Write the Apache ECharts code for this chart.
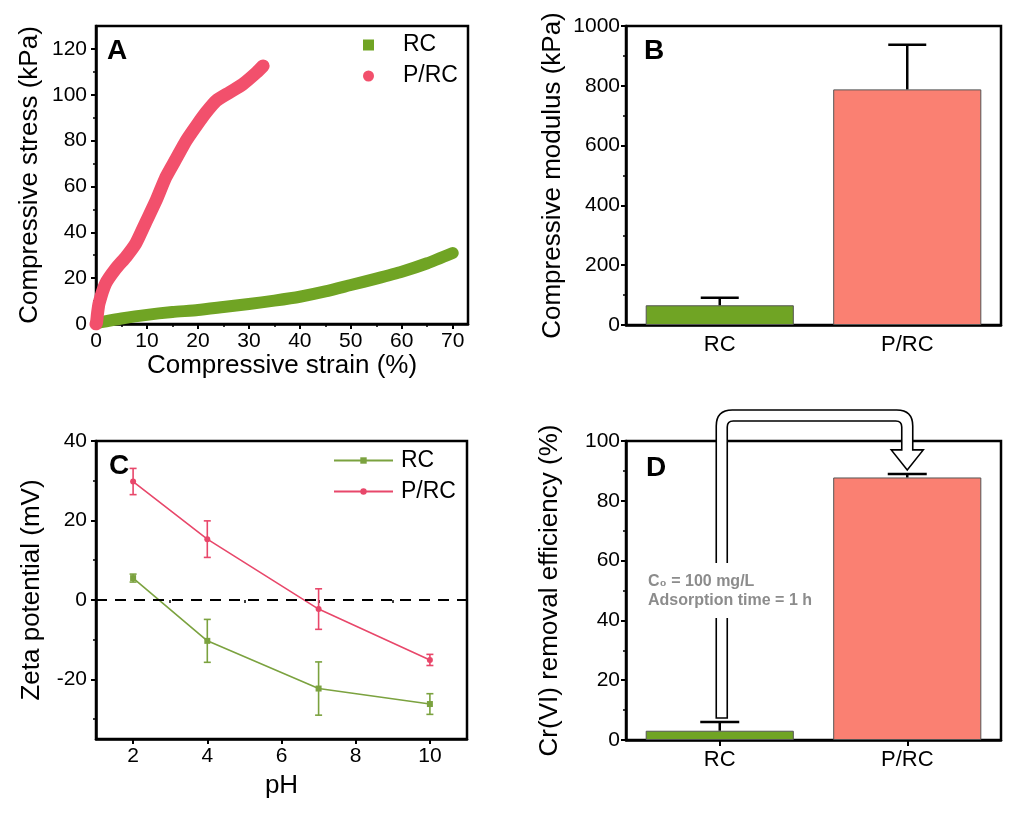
<!DOCTYPE html>
<html><head><meta charset="utf-8">
<script src="https://cdn.jsdelivr.net/npm/echarts@6/dist/echarts.min.js"></script>
<style>html,body{margin:0;padding:0;background:#fff}#c{width:1017px;height:820px}</style>
</head><body><div id="c"></div>
<script>
// ---------- Panel A: stress-strain ----------
const strainRC   = [0, 2, 5, 10, 15, 20, 25, 30, 35, 40, 45, 50, 55, 60, 65, 70];
const stressRC   = [0.3, 1.2, 2.4, 4.0, 5.2, 6.1, 7.4, 8.7, 10.2, 11.9, 14.2, 17.0, 19.8, 22.8, 26.5, 31.0];
const strainPRC  = [0, 0.1, 0.3, 0.6, 1.9, 3.9, 5.9, 7.8, 9.8, 11.8, 13.7, 15.7, 17.7, 19.7, 21.6, 23.6, 26.2, 28.8, 31.5, 32.8];
const stressPRC  = [0, 0.5, 4.6, 9.0, 17.7, 24.2, 29.3, 35.1, 44.5, 53.9, 64.0, 72.0, 80.0, 86.5, 92.3, 97.4, 101.0, 104.6, 109.7, 112.6];
const ticksAx = [0, 10, 20, 30, 40, 50, 60, 70];
const minorAx = [5, 15, 25, 35, 45, 55, 65];
const ticksAy = [0, 20, 40, 60, 80, 100, 120];
const minorAy = [10, 30, 50, 70, 90, 110];

// ---------- Panel B: compressive modulus ----------
const barCats = ['RC', 'P/RC'];
const modulus = [66, 788];
const modulusErr = [25, 149];
const ticksBy = [0, 200, 400, 600, 800, 1000];
const minorBy = [100, 300, 500, 700, 900];

// ---------- Panel C: zeta potential ----------
const pH = [2, 4, 7, 10];
const zetaRC = [5.5, -10.3, -22.3, -26.2];
const zetaRCErr = [1.0, 5.4, 6.7, 2.6];
const zetaPRC = [29.8, 15.3, -2.3, -15.1];
const zetaPRCErr = [3.3, 4.6, 5.1, 1.4];
const ticksCx = [2, 4, 6, 8, 10];
const minorCx = [1, 3, 5, 7, 9, 11];
const ticksCy = [-20, 0, 20, 40];
const minorCy = [-30, -10, 10, 30];

// ---------- Panel D: Cr(VI) removal ----------
const removal = [3.1, 87.8];
const removalErr = [2.9, 1.2];
const ticksDy = [0, 20, 40, 60, 80, 100];
const minorDy = [10, 30, 50, 70, 90];

const FONT = "'Liberation Sans', Arial, Helvetica, sans-serif";
const GREEN = '#70a424';
const SALMON = '#fa8072';
const PINK = '#f2506c';
const CGREEN = '#7ba23f';
const CPINK = '#e8476a';

const AL = {show: true, onZero: false, lineStyle: {color: '#000', width: 2.5}};
const TK = (vals) => ({show: true, inside: false, length: 5, lineStyle: {color: '#000', width: 2}, customValues: vals});
const LB = (vals, margin, size) => ({show: true, color: '#000', fontSize: size || 21, fontFamily: FONT, margin: margin, customValues: vals, formatter: (v) => String(v)});
const NT = {fontSize: 26, color: '#000', fontFamily: FONT};
const minorAxis = (grid, type, pos, min, max, vals) => ({
  gridIndex: grid, type: type, position: pos, min: min, max: max,
  axisLine: {show: false}, axisLabel: {show: false}, splitLine: {show: false},
  axisTick: {show: true, inside: false, length: 3, lineStyle: {color: '#000', width: 1.5}, customValues: vals}
});

function errBar(color, width, capW, upperOnly) {
  return function (params, api) {
    const x = api.value(0), y = api.value(1), e = api.value(2);
    const top = api.coord([x, y + e]);
    const base = api.coord([x, upperOnly ? y : y - e]);
    const h = capW / 2;
    const st = {stroke: color, lineWidth: width};
    const ch = [
      {type: 'line', shape: {x1: top[0], y1: top[1], x2: base[0], y2: base[1]}, style: st},
      {type: 'line', shape: {x1: top[0] - h, y1: top[1], x2: top[0] + h, y2: top[1]}, style: st}
    ];
    if (!upperOnly) ch.push({type: 'line', shape: {x1: base[0] - h, y1: base[1], x2: base[0] + h, y2: base[1]}, style: st});
    return {type: 'group', children: ch};
  };
}

// Arrow in panel D: from the RC error bar up, across, and down onto the P/RC error bar
function arrowItem(params, api) {
  const pRCcap = api.coord([0, removal[0] + removalErr[0]]);
  const pPRCcap = api.coord([1, removal[1] + removalErr[1]]);
  const pTop = api.coord([0, 100]);
  const xL = pRCcap[0] + 2, xR = pPRCcap[0];
  const yB = pRCcap[1] - 4;
  const yT = pTop[1] - 31;
  const yTip = pPRCcap[1] - 4;
  const yHead = yTip - 20;
  const hw = 5.5, th = 11, Ro = 16, Ri = 6, hh = 16;
  const d = [
    'M', xL - hw, yB,
    'L', xL - hw, yT + Ro,
    'Q', xL - hw, yT, xL - hw + Ro, yT,
    'L', xR + hw - Ro, yT,
    'Q', xR + hw, yT, xR + hw, yT + Ro,
    'L', xR + hw, yHead,
    'L', xR + hh, yHead,
    'L', xR, yTip,
    'L', xR - hh, yHead,
    'L', xR - hw, yHead,
    'L', xR - hw, yT + th + Ri,
    'Q', xR - hw, yT + th, xR - hw - Ri, yT + th,
    'L', xL + hw + Ri, yT + th,
    'Q', xL + hw, yT + th, xL + hw, yT + th + Ri,
    'L', xL + hw, yB, 'Z'
  ].join(' ');
  return {type: 'path', shape: {pathData: d}, style: {fill: '#fff', stroke: '#000', lineWidth: 1.6}};
}

const grid = (l, t, w, h) => ({left: l, top: t, width: w, height: h, show: true, borderColor: '#000', borderWidth: 2.5, backgroundColor: 'rgba(0,0,0,0)', containLabel: false});

const chart = echarts.init(document.getElementById('c'), null, {renderer: 'canvas'});
const option = {
  animation: false,
  backgroundColor: '#fff',
  textStyle: {fontFamily: FONT},
  grid: [grid(96, 26, 372, 298), grid(626, 26, 375, 299), grid(96, 441, 371, 298), grid(626, 441, 375, 299)],
  xAxis: [
    {gridIndex: 0, type: 'value', position: 'bottom', min: 0, max: 73, axisLine: AL, axisTick: TK(ticksAx), axisLabel: LB(ticksAx, 7), splitLine: {show: false},
      name: 'Compressive strain (%)', nameLocation: 'middle', nameGap: 29, nameTextStyle: NT},
    minorAxis(0, 'value', 'bottom', 0, 73, minorAx),
    {gridIndex: 1, type: 'category', position: 'bottom', data: barCats, axisLine: AL, axisTick: {show: false}, axisLabel: {color: '#000', fontSize: 22, fontFamily: FONT, margin: 9}, splitLine: {show: false}},
    {gridIndex: 2, type: 'value', position: 'bottom', min: 1, max: 11, axisLine: AL, axisTick: TK(ticksCx), axisLabel: LB(ticksCx, 7), splitLine: {show: false},
      name: 'pH', nameLocation: 'middle', nameGap: 34, nameTextStyle: NT},
    minorAxis(2, 'value', 'bottom', 1, 11, minorCx),
    {gridIndex: 3, type: 'category', position: 'bottom', data: barCats, axisLine: AL, axisTick: {show: true, alignWithLabel: true, length: 6, lineStyle: {color: '#000', width: 2}}, axisLabel: {color: '#000', fontSize: 22, fontFamily: FONT, margin: 9}, splitLine: {show: false}}
  ],
  yAxis: [
    {gridIndex: 0, type: 'value', position: 'left', min: 0, max: 130, axisLine: AL, axisTick: TK(ticksAy), axisLabel: LB(ticksAy, 9), splitLine: {show: false},
      name: 'Compressive stress (kPa)', nameLocation: 'middle', nameGap: 53, nameTextStyle: NT},
    minorAxis(0, 'value', 'left', 0, 130, minorAy),
    {gridIndex: 1, type: 'value', position: 'left', min: 0, max: 1000, axisLine: AL, axisTick: TK(ticksBy), axisLabel: LB(ticksBy, 6), splitLine: {show: false},
      name: 'Compressive modulus (kPa)', nameLocation: 'middle', nameGap: 60, nameTextStyle: NT},
    minorAxis(1, 'value', 'left', 0, 1000, minorBy),
    {gridIndex: 2, type: 'value', position: 'left', min: -35, max: 40, axisLine: AL, axisTick: TK(ticksCy), axisLabel: LB(ticksCy, 9), splitLine: {show: false},
      name: 'Zeta potential (mV)', nameLocation: 'middle', nameGap: 51, nameTextStyle: NT},
    minorAxis(2, 'value', 'left', -35, 40, minorCy),
    {gridIndex: 3, type: 'value', position: 'left', min: 0, max: 100, axisLine: AL, axisTick: TK(ticksDy), axisLabel: LB(ticksDy, 6), splitLine: {show: false},
      name: 'Cr(VI) removal efficiency (%)', nameLocation: 'middle', nameGap: 63, nameTextStyle: NT},
    minorAxis(3, 'value', 'left', 0, 100, minorDy)
  ],
  legend: [
    {id: 'legA', data: [{name: 'RC', icon: 'rect'}, {name: 'P/RC', icon: 'circle'}], orient: 'vertical', left: 363, top: 33.5, padding: 0,
      itemWidth: 11, itemHeight: 11, itemGap: 8, selectedMode: false,
      textStyle: {fontSize: 23, color: '#000', fontFamily: FONT, padding: [0, 0, 0, 24]}},
    {id: 'legC', data: ['RC_c', 'P/RC_c'], orient: 'vertical', left: 333, top: 449, padding: 0,
      itemWidth: 59, itemHeight: 8, itemGap: 8, selectedMode: false,
      formatter: (n) => n.replace('_c', ''),
      textStyle: {fontSize: 23, color: '#000', fontFamily: FONT, padding: [0, 0, 0, 3]}}
  ],
  graphic: [
    {type: 'text', left: 107, top: 37, z: 100, style: {text: 'A', fontSize: 28, fontWeight: 'bold', fontFamily: FONT, fill: '#000'}},
    {type: 'text', left: 644, top: 37, z: 100, style: {text: 'B', fontSize: 28, fontWeight: 'bold', fontFamily: FONT, fill: '#000'}},
    {type: 'text', left: 109, top: 452, z: 100, style: {text: 'C', fontSize: 28, fontWeight: 'bold', fontFamily: FONT, fill: '#000'}},
    {type: 'text', left: 646, top: 454, z: 100, style: {text: 'D', fontSize: 28, fontWeight: 'bold', fontFamily: FONT, fill: '#000'}},
    {type: 'text', left: 644, top: 563, z: 101,
      style: {text: 'C\u2080 = 100 mg/L\nAdsorption time = 1 h', fontSize: 16, fontWeight: 'bold', fontFamily: FONT,
        fill: '#8c8c8c', lineHeight: 19, backgroundColor: '#fff', padding: [9, 4, 8, 4]}}
  ],
  series: [
    {name: 'RC', type: 'line', xAxisIndex: 0, yAxisIndex: 0, showSymbol: false, smooth: 0.2, color: GREEN,
      lineStyle: {width: 12, color: GREEN, cap: 'round', join: 'round'}, itemStyle: {color: GREEN},
      data: strainRC.map((x, i) => [x, stressRC[i]])},
    {name: 'P/RC', type: 'line', xAxisIndex: 0, yAxisIndex: 0, showSymbol: false, smooth: 0.2, color: PINK,
      lineStyle: {width: 13, color: PINK, cap: 'round', join: 'round'}, itemStyle: {color: PINK},
      data: strainPRC.map((x, i) => [x, stressPRC[i]])},
    {name: 'modulus', type: 'bar', xAxisIndex: 2, yAxisIndex: 2, barWidth: '79%',
      data: modulus.map((v, i) => ({value: v, itemStyle: {color: i === 0 ? GREEN : SALMON, borderColor: '#555', borderWidth: 1}}))},
    {name: 'modulusErr', type: 'custom', xAxisIndex: 2, yAxisIndex: 2, z: 5, renderItem: errBar('#000', 2.5, 38, true),
      data: modulus.map((v, i) => [i, v, modulusErr[i]])},
    {name: 'RC_c', type: 'line', xAxisIndex: 3, yAxisIndex: 4, symbol: 'rect', symbolSize: 6, color: CGREEN,
      lineStyle: {width: 1.6, color: CGREEN}, itemStyle: {color: CGREEN},
      data: pH.map((x, i) => [x, zetaRC[i]]),
      markLine: {silent: true, symbol: ['none', 'none'], label: {show: false}, animation: false,
        lineStyle: {color: '#000', type: [11, 8], width: 1.8}, emphasis: {disabled: true}, data: [{yAxis: 0}]}},
    {name: 'RC_cErr', type: 'custom', xAxisIndex: 3, yAxisIndex: 4, z: 4, renderItem: errBar(CGREEN, 1.6, 7, false),
      data: pH.map((x, i) => [x, zetaRC[i], zetaRCErr[i]])},
    {name: 'P/RC_c', type: 'line', xAxisIndex: 3, yAxisIndex: 4, symbol: 'circle', symbolSize: 6, color: CPINK,
      lineStyle: {width: 1.6, color: CPINK}, itemStyle: {color: CPINK},
      data: pH.map((x, i) => [x, zetaPRC[i]])},
    {name: 'P/RC_cErr', type: 'custom', xAxisIndex: 3, yAxisIndex: 4, z: 4, renderItem: errBar(CPINK, 1.6, 7, false),
      data: pH.map((x, i) => [x, zetaPRC[i], zetaPRCErr[i]])},
    {name: 'removal', type: 'bar', xAxisIndex: 5, yAxisIndex: 6, barWidth: '79%',
      data: removal.map((v, i) => ({value: v, itemStyle: {color: i === 0 ? GREEN : SALMON, borderColor: '#555', borderWidth: 1}}))},
    {name: 'removalErr', type: 'custom', xAxisIndex: 5, yAxisIndex: 6, z: 5, renderItem: errBar('#000', 2.5, 39, true),
      data: removal.map((v, i) => [i, v, removalErr[i]])},
    {name: 'arrow', type: 'custom', xAxisIndex: 5, yAxisIndex: 6, z: 20, silent: true, clip: false,
      renderItem: arrowItem, data: [[0, 0]]}
  ]
};
chart.setOption(option);
</script>
</body></html>
